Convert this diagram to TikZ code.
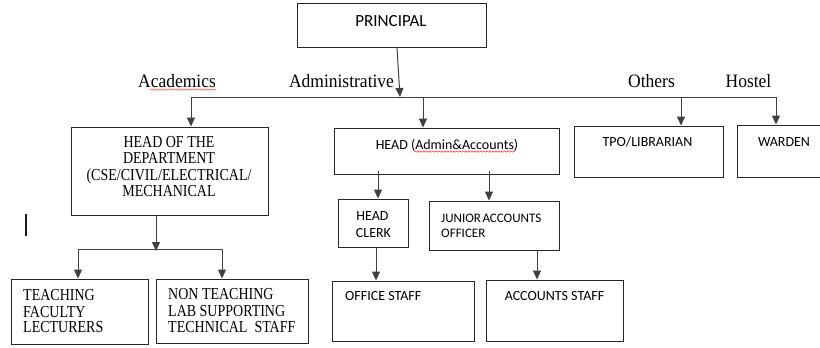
\documentclass[tikz,border=0pt]{standalone}
\usepackage{graphicx}
\usepackage{fontspec}
\setmainfont{Liberation Serif}
\newfontfamily\calib{Carlito}
\usetikzlibrary{arrows.meta,decorations.pathmorphing}
\newcommand\tallt[1]{\scalebox{1}[1.2]{#1}}
\tikzset{
  box/.style={draw=black!85, line width=0.9pt, rectangle, inner sep=0pt},
  conn/.style={draw=black!75, line width=1pt},
  arr/.style={conn, -{Triangle[length=9pt,width=8pt]}},
  sanstxt/.style={font=\calib\fontsize{14}{16.3}\selectfont, inner sep=0pt, text=black},
  sertxt/.style={font=\fontsize{14}{16.3}\selectfont, inner sep=0pt, text=black},
  lbl/.style={font=\fontsize{17.5}{20}\selectfont, inner sep=0pt, text=black},
  squig/.style={draw=red!80, line width=0.5pt, decorate, decoration={snake, segment length=3pt, amplitude=0.7pt}}
}
\begin{document}
\begin{tikzpicture}[x=1pt,y=-1pt]
\useasboundingbox (0,0) rectangle (820,348);
% boxes
\node[box, minimum width=189pt, minimum height=44pt] (prin) at (391.5,25) {};
\node[box, minimum width=197pt, minimum height=88pt] (hod) at (169.5,171) {};
\node[box, minimum width=137pt, minimum height=65pt] (teach) at (79.5,311.5) {};
\node[box, minimum width=152pt, minimum height=64pt] (nonteach) at (232,311) {};
\node[box, minimum width=225pt, minimum height=46pt] (headadm) at (446.5,151) {};
\node[box, minimum width=149pt, minimum height=51pt] (tpo) at (648.5,151.5) {};
\node[box, minimum width=90pt, minimum height=52pt] (warden) at (782,151) {};
\node[box, minimum width=70pt, minimum height=48pt] (hclerk) at (373,223) {};
\node[box, minimum width=130pt, minimum height=49pt] (jao) at (494,225.5) {};
\node[box, minimum width=142pt, minimum height=60pt] (office) at (403,311) {};
\node[box, minimum width=137pt, minimum height=61pt] (accounts) at (554.5,310.5) {};

% texts
\node[sanstxt, anchor=base, font=\calib\fontsize{17}{20}\selectfont] (tprin) at (391,27) {PRINCIPAL};
\node[lbl, anchor=base] (acad) at (177,87) {\scalebox{1}[1.08]{Academics}};
\node[lbl, anchor=base] (admin) at (341.5,87) {\scalebox{1}[1.08]{Administrative}};
\node[lbl, anchor=base] (others) at (651.5,87) {\scalebox{1}[1.08]{Others}};
\node[lbl, anchor=base] (hostel) at (748.5,87) {\scalebox{1}[1.08]{Hostel}};

\node[sertxt, anchor=base] (thod1) at (169,147) {\tallt{HEAD OF THE}};
\node[sertxt, anchor=base] (thod2) at (169,163) {\tallt{DEPARTMENT}};
\node[sertxt, anchor=base] (thod3) at (169,180) {\tallt{(CSE/CIVIL/ELECTRICAL/}};
\node[sertxt, anchor=base] (thod4) at (169,196) {\tallt{MECHANICAL}};

\node[sertxt, anchor=base west] (tt1) at (23,300) {\tallt{TEACHING}};
\node[sertxt, anchor=base west] (tt2) at (23,317) {\tallt{FACULTY}};
\node[sertxt, anchor=base west] (tt3) at (23,332.5) {\tallt{LECTURERS}};

\node[sertxt, anchor=base west] (tn1) at (168,299) {\tallt{NON TEACHING}};
\node[sertxt, anchor=base west] (tn2) at (168,316) {\tallt{LAB SUPPORTING}};
\node[sertxt, anchor=base west] (tn3) at (168,332) {\tallt{TECHNICAL\ \ STAFF}};

\node[sanstxt, anchor=base] (thadm) at (447,149) {HEAD (Admin\&Accounts)};
\node[sanstxt, anchor=base] (ttpo) at (647.5,146) {TPO/LIBRARIAN};
\node[sanstxt, anchor=base] (tward) at (784,146) {WARDEN};
\node[sanstxt, anchor=base] (thc1) at (372.5,220) {HEAD};
\node[sanstxt, anchor=base] (thc2) at (373.5,237) {CLERK};
\node[sanstxt, anchor=base west, font=\calib\fontsize{13}{16}\selectfont] (tjao1) at (441,222) {JUNIOR\hspace{1.5pt}ACCOUNTS};
\node[sanstxt, anchor=base west, font=\calib\fontsize{13}{16}\selectfont] (tjao2) at (441,237) {OFFICER};
\node[sanstxt, anchor=base west] (toff) at (345,300) {OFFICE STAFF};
\node[sanstxt, anchor=base] (tacc) at (554.5,300) {ACCOUNTS STAFF};

% spell-check squiggles
\draw[squig] ([xshift=12pt,yshift=-2.5pt]acad.base west) -- ([yshift=-2.5pt]acad.base east);
\draw[squig] ([xshift=-33pt,yshift=-2.5pt]thadm.base) -- ([xshift=68pt,yshift=-2.5pt]thadm.base);

% cursor mark
\fill[black!90] (25,214) rectangle (27,236);

% bus coordinates
\coordinate (bp) at (400,97);
\coordinate (b1) at (191,97);
\coordinate (b2) at (423,97);
\coordinate (b3) at (681,97);
\coordinate (b4) at (776,97);
\coordinate (h0) at (156,249);
\coordinate (h1) at (78,249);
\coordinate (h2) at (222,249);

% connectors
\draw[arr] ([xshift=5.5pt]prin.south) -- (bp);
\draw[conn] (b1) -- (b4);
\draw[arr] (b1) -- (b1 |- hod.north);
\draw[arr] (b2) -- (b2 |- headadm.north);
\draw[arr] (b3) -- (b3 |- tpo.north);
\draw[arr] (b4) -- (b4 |- warden.north);

\draw[arr] (h0 |- hod.south) -- ([yshift=-2pt]h0);
\draw[conn] (h1) -- (h2);
\draw[arr] (h1) -- (h1 |- teach.north);
\draw[arr] (h2) -- (h2 |- nonteach.north);

\draw[arr] ([yshift=3pt]headadm.south -| 378,0) -- (378,0 |- hclerk.north);
\draw[arr] ([yshift=3pt]headadm.south -| 489,0) -- (489,0 |- jao.north);
\draw[arr] (hclerk.south -| 376,0) -- (376,0 |- office.north);
\draw[arr] (jao.south -| 537,0) -- (537,0 |- accounts.north);
\end{tikzpicture}
\end{document}
